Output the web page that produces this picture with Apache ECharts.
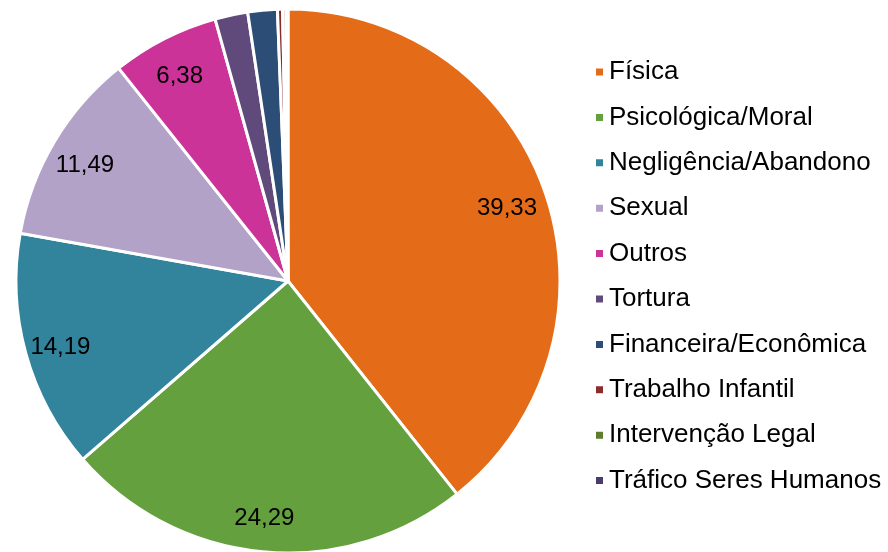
<!DOCTYPE html>
<html lang="pt">
<head>
    <meta charset="UTF-8">
    <title>Tipos de violência</title>
    <script src="https://cdn.jsdelivr.net/npm/echarts@6/dist/echarts.min.js"></script>
    <style>
        html, body { margin: 0; padding: 0; background: #fff; }
    </style>
</head>
<body>
<div id="chart" style="width: 888px;height:552px;"></div>

<script type="text/javascript">
    var categorias = ["Física", "Psicológica/Moral", "Negligência/Abandono", "Sexual", "Outros",
        "Tortura", "Financeira/Econômica", "Trabalho Infantil", "Intervenção Legal", "Tráfico Seres Humanos"];
    var valores = [39.33, 24.29, 14.19, 11.49, 6.38, 1.95, 1.75, 0.3, 0.2, 0.12];
    var cores = ["#E46B17", "#64A03E", "#31849B", "#B2A2C7", "#CC3399",
        "#604A7B", "#2C4D75", "#8B2C2A", "#5F7B2E", "#4B3B6B"];

    var dados = categorias.map(function (nome, i) {
        return { name: nome, value: valores[i] };
    });

    var fonte = "'Liberation Sans', Arial, sans-serif";
    var myChart = echarts.init(document.getElementById('chart'));

    var option = {
        animation: false,
        color: cores,
        legend: {
            orient: 'vertical',
            left: 589,
            top: 54,
            itemWidth: 9,
            itemHeight: 9,
            itemGap: 19.4,
            icon: 'rect',
            selectedMode: false,
            data: categorias,
            textStyle: {
                fontFamily: fonte,
                fontSize: 26,
                lineHeight: 26,
                color: '#000'
            }
        },
        series: [{
            type: 'pie',
            center: [288, 281],
            radius: [0, 272],
            startAngle: 90,
            clockwise: true,
            label: { show: false },
            labelLine: { show: false },
            itemStyle: { borderColor: '#fff', borderWidth: 3 },
            emphasis: { disabled: true },
            data: dados
        }, {
            // camada transparente só para posicionar os rótulos mais perto da borda
            type: 'pie',
            center: [288, 281],
            radius: [190, 272],
            startAngle: 90,
            clockwise: true,
            silent: true,
            legendHoverLink: false,
            itemStyle: { color: 'transparent', borderWidth: 0 },
            emphasis: { disabled: true },
            labelLine: { show: false },
            label: {
                show: true,
                position: 'inside',
                offset: [-2, 4],
                fontFamily: fonte,
                fontSize: 24,
                color: '#000',
                formatter: function (p) {
                    return p.value >= 5 ? p.value.toFixed(2).replace('.', ',') : '';
                }
            },
            data: dados
        }]
    };
    myChart.setOption(option);
</script>
</body>
</html>
